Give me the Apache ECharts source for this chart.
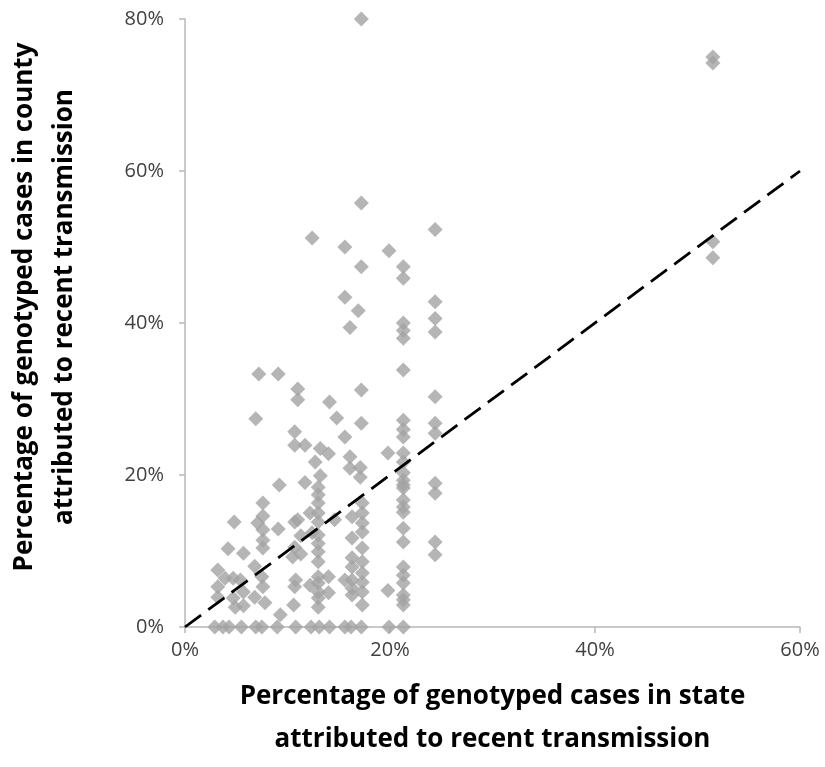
<!DOCTYPE html>
<html>
<head>
<meta charset="utf-8">
<script src="https://cdn.jsdelivr.net/npm/echarts@6/dist/echarts.min.js"></script>
<style>html,body{margin:0;padding:0;background:#fff;overflow:hidden}#c{width:825px;height:767px}</style>
</head>
<body>
<div id="c"></div>
<script>
// State % (x) and county % (y) pairs
const zeroRow = [[2.9,0],[3.7,0],[4.3,0],[5.5,0],[6.9,0],[7.5,0],[9.0,0],[10.8,0],[12.3,0],[13.1,0],[14.1,0],[15.6,0],[16.2,0],[17.2,0],[19.9,0],[21.3,0]];
const lowLeft = [[3.2,7.5],[3.2,5.3],[3.2,3.9],[3.9,6.4],[4.2,10.3],[4.7,6.4],[4.7,3.8],[4.8,13.8],[4.9,2.6],[5.4,6.2],[5.7,9.7],[5.7,4.6],[5.7,2.8],[6.8,8.0],[6.8,3.9],[6.9,27.4],[7.1,13.7],[7.2,33.3],[7.5,6.6],[7.6,16.3],[7.6,14.6],[7.6,12.8],[7.6,11.4],[7.6,10.4],[7.6,5.3],[7.8,3.2]];
const mid9to11 = [[9.1,33.3],[9.2,18.7],[9.1,12.9],[9.3,1.6],[10.7,25.7],[10.7,23.9],[10.7,13.8],[10.7,10.5],[10.5,9.2],[10.8,6.2],[10.7,5.3],[10.6,2.9],[11.0,31.3],[11.0,29.9],[11.7,23.9],[11.7,19.0],[11.0,14.1],[11.3,12.0],[11.3,9.6]];
const mid12to14 = [[12.4,51.2],[12.2,15.0],[12.4,12.4],[12.2,5.5],[12.7,21.7],[13.2,23.5],[13.2,19.9],[13.0,18.4],[13.0,17.4],[13.0,16.3],[13.0,15.0],[13.0,13.8],[13.0,12.1],[13.0,11.0],[13.0,9.9],[13.0,8.6],[13.0,6.6],[13.0,5.8],[13.0,4.6],[13.0,3.8],[13.0,2.6],[14.1,29.6],[14.0,22.8],[14.6,14.1],[14.0,6.6],[14.0,4.5]];
const mid15to17 = [[14.8,27.5],[15.6,25.0],[15.6,50.0],[15.6,43.4],[15.6,6.2],[16.1,39.4],[16.1,22.4],[16.1,20.9],[16.3,14.5],[16.3,11.7],[16.3,9.1],[16.3,7.9],[16.3,6.2],[16.3,5.1],[16.3,4.2],[17.2,80.0],[17.2,55.8],[17.2,47.4],[16.9,41.6],[17.2,31.2],[17.2,26.8],[17.1,21.0],[17.1,19.7],[17.3,16.3],[17.3,15.0],[17.3,13.7],[17.3,12.5],[17.3,10.4],[17.3,8.6],[17.3,7.1],[17.3,5.9],[17.3,4.6],[17.3,2.9]];
const col20 = [[19.9,49.5],[19.8,22.9],[19.8,4.8]];
const col21 = [[21.3,47.4],[21.3,45.9],[21.3,40.0],[21.3,39.0],[21.3,38.0],[21.3,33.8],[21.3,27.2],[21.3,26.0],[21.3,25.0],[21.3,22.9],[21.3,21.7],[21.3,20.3],[21.3,19.3],[21.3,18.7],[21.3,18.3],[21.3,16.7],[21.3,15.8],[21.3,15.1],[21.3,13.0],[21.3,11.2],[21.3,7.9],[21.3,6.8],[21.3,5.8],[21.3,4.2],[21.3,3.6],[21.3,2.9]];
const col24 = [[24.4,52.3],[24.4,42.8],[24.4,40.6],[24.4,38.8],[24.4,30.3],[24.4,26.8],[24.4,25.5],[24.4,18.9],[24.4,17.6],[24.4,11.2],[24.4,9.5]];
const col51 = [[51.5,75.0],[51.5,74.2],[51.5,50.7],[51.5,48.6]];
const equalityLine = [[0,0],[60,60]];
const xTicks = [0,20,40,60];
const yTicks = [0,20,40,60,80];
const xTitle = 'Percentage of genotyped cases in state\nattributed to recent transmission';
const yTitle = 'Percentage of genotyped cases in county\nattributed to recent transmission';

const points = [].concat(zeroRow, lowLeft, mid9to11, mid12to14, mid15to17, col20, col21, col24, col51);
const chart = echarts.init(document.getElementById('c'), null, {renderer:'canvas', width:825, height:767});
const fontFam = '"Open Sans", "Noto Sans", sans-serif';
chart.setOption({
  animation:false,
  backgroundColor:'#fff',
  grid:{left:185, width:615, top:19, height:608, containLabel:false},
  graphic:[{
    type:'text', x:45, y:307, rotation:Math.PI/2,
    style:{text:yTitle, textAlign:'center', textVerticalAlign:'middle',
      fontFamily:fontFam, fontWeight:'bold', fontSize:26, lineHeight:40, fill:'#000'}
  }],
  xAxis:{
    type:'value', min:xTicks[0], max:xTicks[xTicks.length-1], interval:20,
    name:xTitle,
    nameLocation:'middle', nameGap:48,
    nameTextStyle:{fontFamily:fontFam, fontWeight:'bold', fontSize:26, color:'#000', lineHeight:43},
    axisLine:{show:true, lineStyle:{color:'#b8b8b8', width:1.5}},
    axisTick:{show:true, inside:false, length:6, lineStyle:{color:'#b8b8b8', width:1.5}},
    axisLabel:{formatter:'{value}%', fontFamily:fontFam, fontSize:20, color:'#404040', margin:13},
    splitLine:{show:false}
  },
  yAxis:{
    type:'value', min:yTicks[0], max:yTicks[yTicks.length-1], interval:20,
    axisLine:{show:true, lineStyle:{color:'#b8b8b8', width:1.5}},
    axisTick:{show:true, inside:false, length:6, lineStyle:{color:'#b8b8b8', width:1.5}},
    axisLabel:{formatter:'{value}%', fontFamily:fontFam, fontSize:20, color:'#404040', margin:21},
    splitLine:{show:false}
  },
  series:[
    {type:'scatter', data:points, symbol:'diamond', symbolSize:[15,15],
     itemStyle:{color:'#a3a3a3'}, z:2},
    {type:'line', data:equalityLine, symbol:'none', z:3,
     lineStyle:{color:'#000', width:2.8, type:[20,9]}}
  ]
});
</script>
</body>
</html>
